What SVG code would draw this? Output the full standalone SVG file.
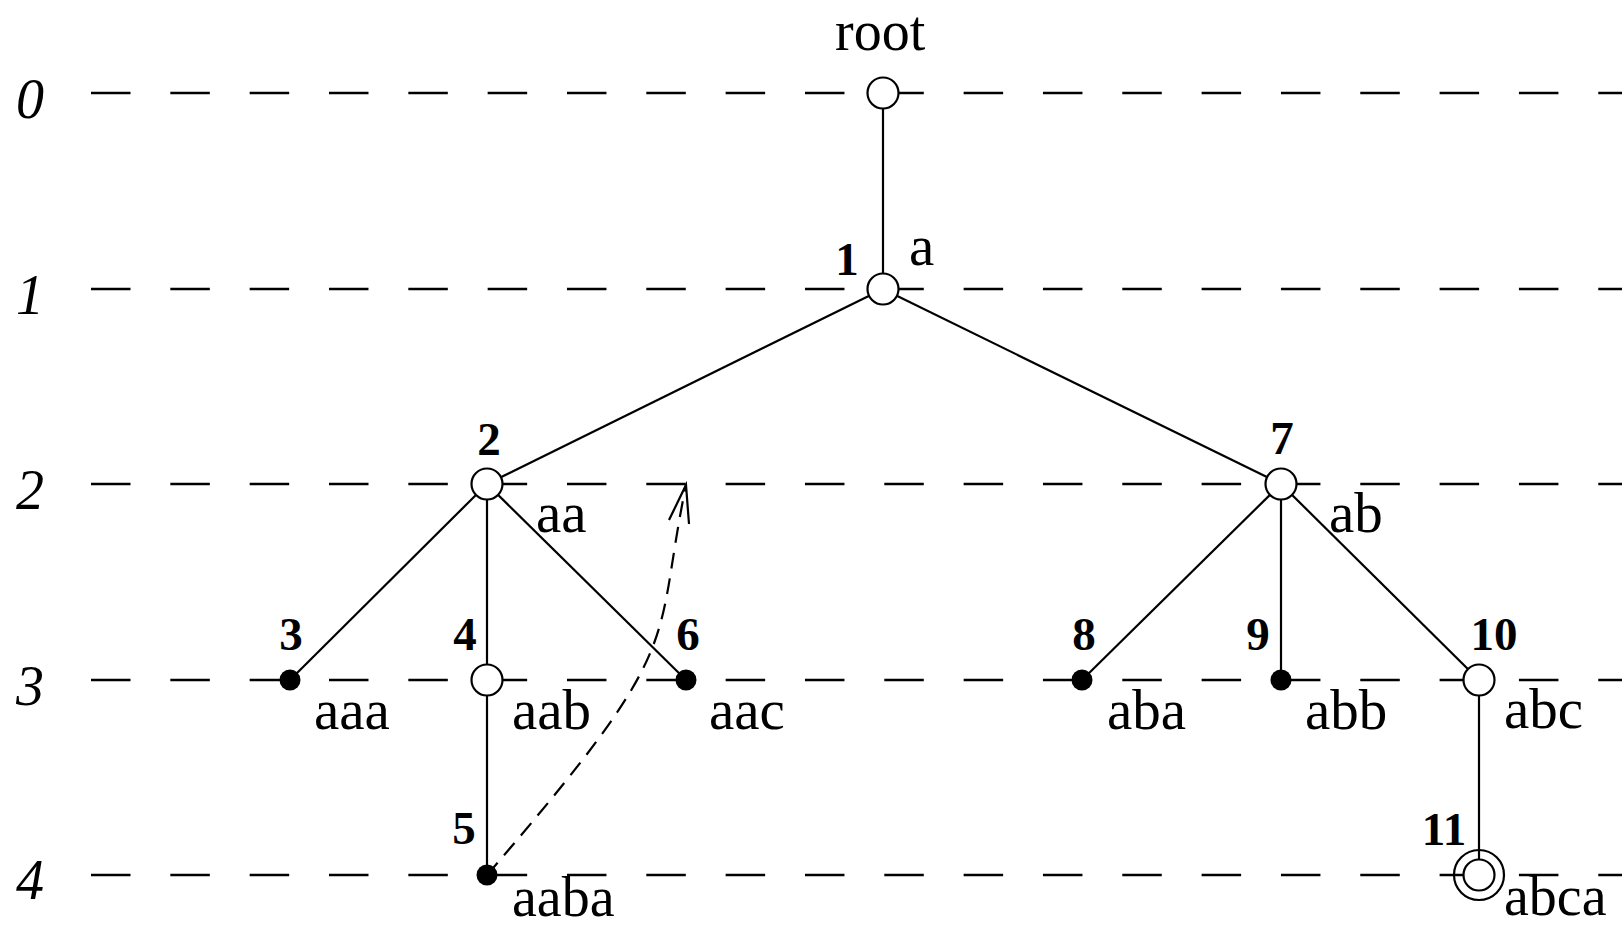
<svg xmlns="http://www.w3.org/2000/svg" width="1622" height="928" viewBox="0 0 1622 928">
<style>
.lvl{font-family:"Liberation Serif","Times New Roman",serif;font-style:italic;font-size:56px;text-anchor:middle}
.lbl{font-family:"Liberation Serif","Times New Roman",serif;font-size:57px}
.num{font-family:"Liberation Serif","Times New Roman",serif;font-weight:bold;font-size:47px;text-anchor:middle}
.grid{stroke:#000;stroke-width:2.4;stroke-dasharray:39.5 39.83;fill:none}
.edge{stroke:#000;stroke-width:2.2;fill:none}
.open{fill:#fff;stroke:#000;stroke-width:2.2}
.full{fill:#000;stroke:none}
</style>
<rect width="1622" height="928" fill="#fff"/>
<g id="levels">
<line class="grid" x1="91" y1="93" x2="1622" y2="93"/>
<line class="grid" x1="91" y1="289" x2="1622" y2="289"/>
<line class="grid" x1="91" y1="484" x2="1622" y2="484"/>
<line class="grid" x1="91" y1="680" x2="1622" y2="680"/>
<line class="grid" x1="91" y1="875" x2="1622" y2="875"/>
<text class="lvl" x="30" y="118">0</text>
<text class="lvl" x="30" y="314">1</text>
<text class="lvl" x="30" y="509">2</text>
<text class="lvl" x="30" y="705">3</text>
<text class="lvl" x="30" y="899">4</text>
</g>
<g id="connectors">
<line class="edge" x1="883" y1="93" x2="883" y2="289"/>
<line class="edge" x1="883" y1="289" x2="487" y2="484"/>
<line class="edge" x1="883" y1="289" x2="1281" y2="484"/>
<line class="edge" x1="487" y1="484" x2="290" y2="680"/>
<line class="edge" x1="487" y1="484" x2="487" y2="680"/>
<line class="edge" x1="487" y1="484" x2="686" y2="680"/>
<line class="edge" x1="487" y1="680" x2="487" y2="875"/>
<line class="edge" x1="1281" y1="484" x2="1082" y2="680"/>
<line class="edge" x1="1281" y1="484" x2="1281" y2="680"/>
<line class="edge" x1="1281" y1="484" x2="1479" y2="680"/>
<line class="edge" x1="1479" y1="680" x2="1479" y2="860"/>
<path class="edge" d="M487,875 C690,640 652,650 686,485" stroke-dasharray="16 10"/>
<polyline class="edge" points="669,520 686,485 689,524"/>
</g>
<g id="node-root">
<circle class="open" cx="883" cy="93" r="15.5"/>
<text class="lbl" x="835" y="50" style="font-size:56px">root</text>
</g>
<g id="node-1">
<circle class="open" cx="883" cy="289" r="15.5"/>
<text class="num" x="847" y="275">1</text>
<text class="lbl" x="909" y="265">a</text>
</g>
<g id="node-2">
<circle class="open" cx="487" cy="484" r="15.5"/>
<text class="num" x="489" y="455">2</text>
<text class="lbl" x="536" y="532">aa</text>
</g>
<g id="node-3">
<circle class="full" cx="290" cy="680" r="10.5"/>
<text class="num" x="291" y="650">3</text>
<text class="lbl" x="314" y="729">aaa</text>
</g>
<g id="node-4">
<circle class="open" cx="487" cy="680" r="15.5"/>
<text class="num" x="465" y="650">4</text>
<text class="lbl" x="512" y="729">aab</text>
</g>
<g id="node-5">
<circle class="full" cx="487" cy="875" r="10.5"/>
<text class="num" x="464" y="844">5</text>
<text class="lbl" x="512" y="916" style="font-size:56px">aaba</text>
</g>
<g id="node-6">
<circle class="full" cx="686" cy="680" r="10.5"/>
<text class="num" x="688" y="650">6</text>
<text class="lbl" x="709" y="729">aac</text>
</g>
<g id="node-7">
<circle class="open" cx="1281" cy="484" r="15.5"/>
<text class="num" x="1282" y="454">7</text>
<text class="lbl" x="1329" y="532">ab</text>
</g>
<g id="node-8">
<circle class="full" cx="1082" cy="680" r="10.5"/>
<text class="num" x="1084" y="650">8</text>
<text class="lbl" x="1107" y="729">aba</text>
</g>
<g id="node-9">
<circle class="full" cx="1281" cy="680" r="10.5"/>
<text class="num" x="1258" y="650">9</text>
<text class="lbl" x="1305" y="729">abb</text>
</g>
<g id="node-10">
<circle class="open" cx="1479" cy="680" r="15.5"/>
<text class="num" x="1494" y="650">10</text>
<text class="lbl" x="1504" y="728">abc</text>
</g>
<g id="node-11">
<circle cx="1479" cy="875" r="25" fill="none" stroke="#000" stroke-width="2.2"/>
<circle class="open" cx="1479" cy="875" r="15.5"/>
<text class="num" x="1444" y="845">11</text>
<text class="lbl" x="1504" y="915" style="font-size:56px">abca</text>
</g>
</svg>
